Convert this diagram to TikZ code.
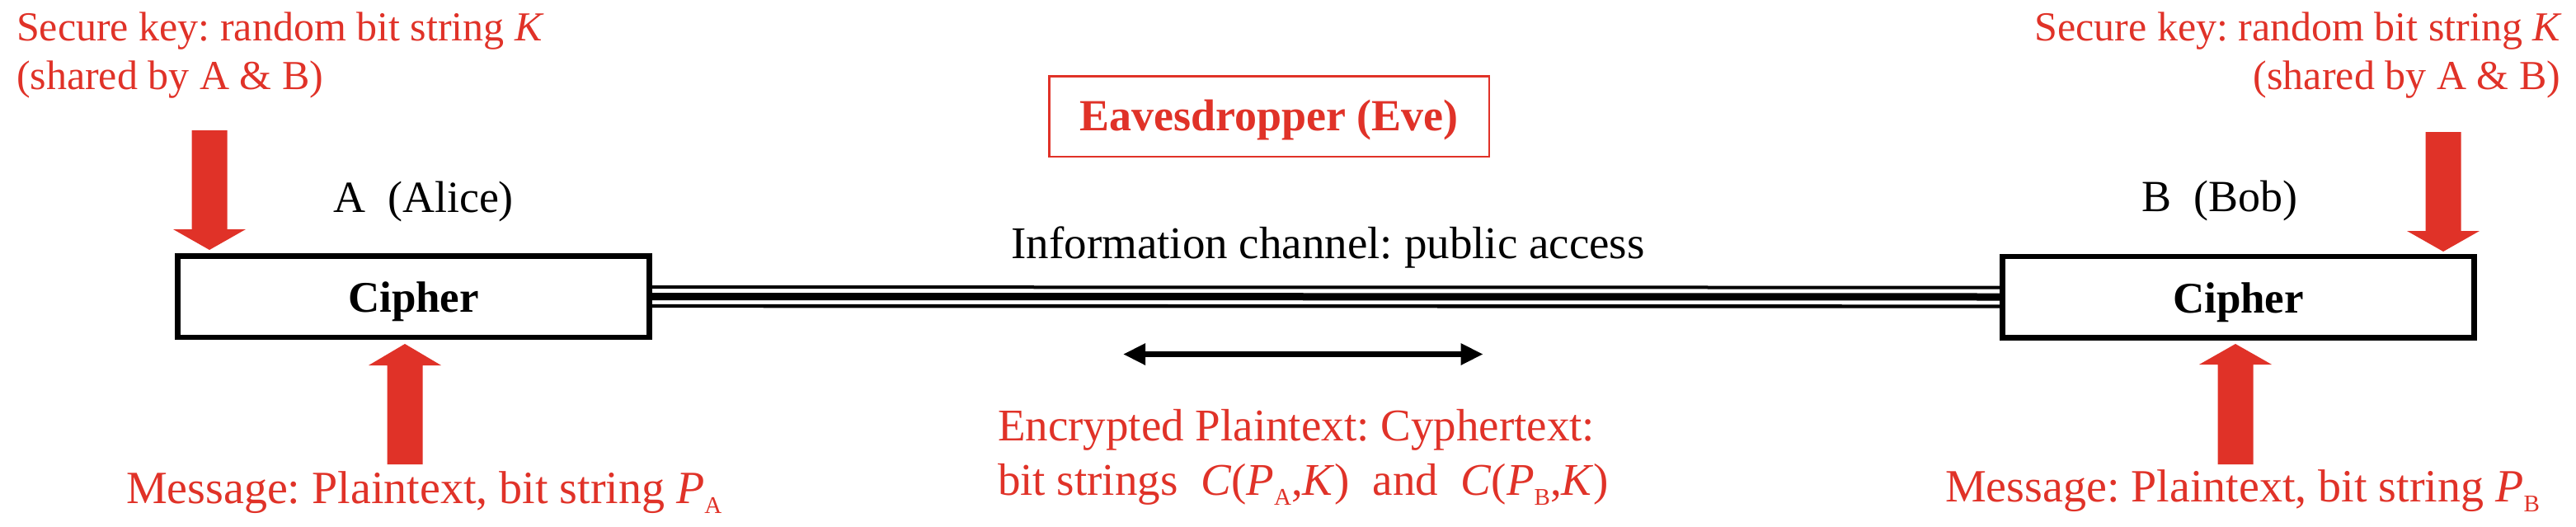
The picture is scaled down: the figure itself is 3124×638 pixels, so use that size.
\documentclass[tikz,border=0pt]{standalone}
\usepackage{fontspec}
\setmainfont{Liberation Serif}
\usetikzlibrary{arrows.meta,calc}
\definecolor{keyred}{RGB}{224,50,40}
\frenchspacing
\newcommand{\sbs}[1]{\raisebox{-0.22em}{\fontsize{29}{30}\selectfont #1}}
% vertical block arrow from start (#1) to tip (#2); #3 = offset of head base from tip
\newcommand{\blockarr}[3]{%
  \fill[keyred] let \p1=(#1), \p2=(#2) in
  (\x1-21.5pt,\y1) -- (\x1-21.5pt,\y2#3) -- (\x1-44pt,\y2#3) -- (\x2,\y2)
  -- (\x1+44pt,\y2#3) -- (\x1+21.5pt,\y2#3) -- (\x1+21.5pt,\y1) -- cycle;}
\tikzset{
  txt/.style={inner sep=0pt, outer sep=0pt},
  keytxt/.style={txt, text=keyred, font=\fontsize{50}{59}\selectfont},
  msgtxt/.style={txt, text=keyred, font=\fontsize{56}{66}\selectfont},
  enctxt/.style={txt, text=keyred, font=\fontsize{55}{66}\selectfont},
  nametxt/.style={txt, font=\fontsize{54}{62}\selectfont},
  chantxt/.style={txt, font=\fontsize{55}{62}\selectfont},
  cipherbox/.style={draw, line width=6.5pt, minimum width=572pt, minimum height=98.5pt,
    inner sep=0pt, font=\bfseries\fontsize{53}{60}\selectfont, text height=44pt, text depth=6pt},
  evebox/.style={draw=keyred, line width=2.5pt, minimum width=533.5pt, minimum height=97.5pt,
    inner sep=0pt, text=keyred, font=\bfseries\fontsize{54}{62}\selectfont, text height=40pt, text depth=6pt},
  chanline/.style={draw, line width=#1},
  dblarrow/.style={draw, line width=7pt,
    {Triangle[width=27pt,length=26.5pt,line width=0pt]}-{Triangle[width=27pt,length=26.5pt,line width=0pt]}}
}
\begin{document}
\begin{tikzpicture}[x=1pt,y=1pt]
\fill[white] (0,0) rectangle (3124,-638);
\useasboundingbox (0,0) rectangle (3124,-638);

% boxes
\node[cipherbox] (boxA) at (501.5,-359.5) {Cipher};
\node[cipherbox] (boxB) at (2714.5,-360) {Cipher};
\node[evebox] (eve) at (1539,-141) {Eavesdropper (Eve)};

% channel (triple line)
\draw[chanline=9pt] (boxA.east) -- (boxB.west);
\draw[chanline=4pt] ([yshift=11.4pt]boxA.east) -- ([yshift=11.4pt]boxB.west);
\draw[chanline=4.4pt] ([yshift=-11.5pt]boxA.east) -- ([yshift=-11.5pt]boxB.west);

% labels
\node[keytxt, anchor=base west] (keyA1) at (20,-49) {Secure key: random bit string \textit{K}};
\node[keytxt, anchor=base west] (keyA2) at (20,-108) {(shared by A \& B)};
\node[keytxt, anchor=base east] (keyB1) at (3107,-49) {Secure key: random bit string \textit{K}};
\node[keytxt, anchor=base east] (keyB2) at (3105,-108) {(shared by A \& B)};

\node[nametxt, anchor=base] (alice) at (513.5,-257) {A~~(Alice)};
\node[nametxt, anchor=base] (bob) at (2691.5,-256) {B~~(Bob)};
\node[chantxt, anchor=base] (chan) at (1610.5,-313) {Information channel: public access};

\node[msgtxt, anchor=base west] (msgA) at (153,-610) {Message: Plaintext, bit string \textit{P}\sbs{A}};
\node[msgtxt, anchor=base east] (msgB) at (3080,-608) {Message: Plaintext, bit string \textit{P}\sbs{B}};

\node[enctxt, anchor=base west] (enc1) at (1210,-534) {Encrypted Plaintext: Cyphertext:};
\node[enctxt, anchor=base west] (enc2) at (1210,-600) {bit strings~~\textit{C}(\textit{P}\sbs{A},\textit{K})~~and~~\textit{C}(\textit{P}\sbs{B},\textit{K})};

% red block arrows
\coordinate (kAs) at (254,-158);
\coordinate (kAt) at (254,-303);
\coordinate (kBs) at (2963,-160);
\coordinate (kBt) at (2963,-305);
\coordinate (mAs) at (491,-563);
\coordinate (mAt) at (491,-417);
\coordinate (mBs) at (2711,-563);
\coordinate (mBt) at (2711,-417);
\blockarr{kAs}{kAt}{+25pt}
\blockarr{kBs}{kBt}{+25pt}
\blockarr{mAs}{mAt}{-26pt}
\blockarr{mBs}{mBt}{-25pt}

% double arrow
\coordinate (dL) at (1362.7,-429.5);
\coordinate (dR) at (1798,-429.5);
\draw[dblarrow] (dL) -- (dR);
\end{tikzpicture}
\end{document}
